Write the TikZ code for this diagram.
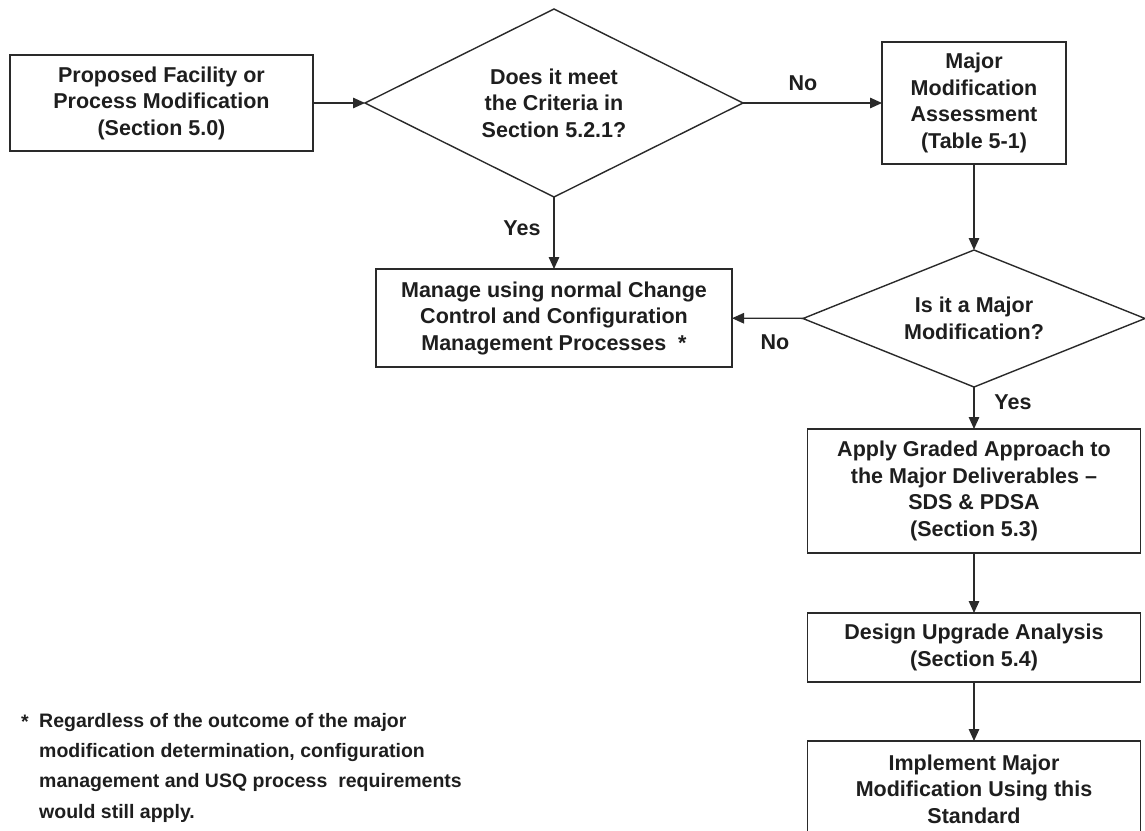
\documentclass[tikz,border=0pt]{standalone}
\usepackage{fontspec}
\setmainfont{Liberation Sans}
\usetikzlibrary{shapes.geometric,arrows.meta}
\definecolor{ink}{HTML}{1E1E1E}
\definecolor{edge}{HTML}{2A2A2A}

\begin{document}
\begin{tikzpicture}[x=1pt,y=-1pt,
  every node/.style={text=ink,font=\bfseries\fontsize{21.5}{26.5}\selectfont},
  box/.style={draw=edge,line width=1.4pt,rectangle,inner sep=0pt,outer sep=0pt,align=center},
  decision/.style={draw=edge,line width=1.4pt,diamond,shape aspect=2,inner sep=0pt,outer sep=0pt,align=center},
  flow/.style={draw=edge,line width=1.4pt,-{Triangle[length=12pt,width=10.5pt]}},
  lbl/.style={inner sep=0pt},
  note/.style={inner sep=0pt,font=\bfseries\fontsize{19.5}{30.3}\selectfont}]

\useasboundingbox (0,0) rectangle (1145,830);
\clip (0,0) rectangle (1145,830);

% process boxes and decisions
\node[box,minimum width=303pt,minimum height=96pt] (prop) at (161.5,103)
  {Proposed Facility or\\Process Modification\\(Section 5.0)};
\node[decision,minimum width=378pt,minimum height=188pt] (crit) at (554,103)
  {Does it meet\\the Criteria in\\Section 5.2.1?};
\node[box,minimum width=184pt,minimum height=122pt] (assess) at (974,103)
  {Major\\Modification\\Assessment\\(Table 5-1)};
\node[box,minimum width=356pt,minimum height=98pt] (manage) at (554,318)
  {Manage using normal Change\\Control and Configuration\\Management Processes\ \ *};
\node[decision,minimum width=342pt,minimum height=137pt] (major) at (974,318.5)
  {Is it a Major\\Modification?};
\node[box,minimum width=333pt,minimum height=124pt] (apply) at (974,491)
  {Apply Graded Approach to\\the Major Deliverables –\\SDS \& PDSA\\(Section 5.3)};
\node[box,minimum width=333pt,minimum height=69pt] (design) at (974,647.5)
  {Design Upgrade Analysis\\(Section 5.4)};
\node[box,minimum width=333pt,minimum height=96pt] (impl) at (974,789)
  {Implement Major\\Modification Using this\\Standard};

% connectors
\draw[flow] (prop) -- (crit);
\draw[flow] (crit) -- (assess);
\draw[flow] (crit) -- (manage);
\draw[flow] (assess) -- (major);
\draw[flow] (major) -- (manage);
\draw[flow] (major) -- (apply);
\draw[flow] (apply) -- (design);
\draw[flow] (design) -- (impl);

% branch labels
\node[lbl] (noA) at (803,83) {No};
\node[lbl] (yesA) at (522,228) {Yes};
\node[lbl] (noB) at (775,342) {No};
\node[lbl] (yesB) at (1013,402) {Yes};

% footnote
\node[note,anchor=base west] (star) at (21,728) {*};
\node[note,anchor=north west,align=left] (notetext) at (39,713)
  {Regardless of the outcome of the major\\
   modification determination, configuration\\
   management and USQ process\ \ requirements\\
   would still apply.};
\end{tikzpicture}
\end{document}
